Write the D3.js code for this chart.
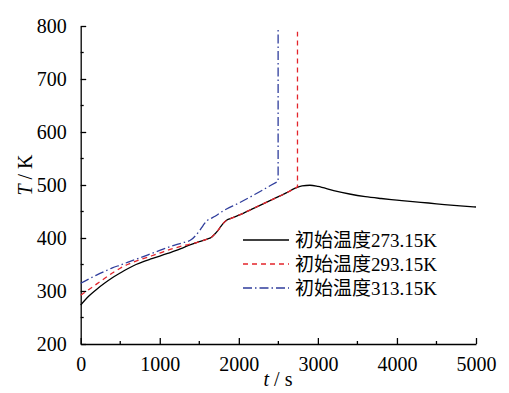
<!DOCTYPE html>
<html>
<head>
<meta charset="utf-8">
<script src="https://cdn.jsdelivr.net/npm/d3@7"></script>
<style>
  body { margin: 0; background: #fff; }
  svg { display: block; }
</style>
</head>
<body>
<div id="chart"></div>
<script>
// series: time (s) and temperature (K)
const t273 = [0, 100, 200, 300, 400, 500, 600, 700, 800, 900, 1000, 1100, 1200, 1300, 1400, 1500, 1600, 1650, 1700, 1750, 1800, 1850, 1900, 2000, 2200, 2400, 2600, 2700, 2800, 2900, 3000, 3200, 3400, 3600, 3800, 4000, 4200, 4400, 4600, 4800, 5000];
const T273 = [273.5, 290, 303, 314.5, 325, 334, 342.5, 350, 356, 361, 366, 371, 376, 382, 388, 393, 398, 401, 408, 417, 427, 434, 437, 443, 457, 471, 485, 493, 498.5, 499.5, 497.5, 489.5, 483, 478, 474.5, 471.5, 468.5, 466, 463, 460.5, 458.5];

const t293 = [0, 100, 200, 300, 400, 500, 600, 700, 800, 900, 1000, 1100, 1200, 1300, 1400, 1500, 1600, 1650, 1700, 1750, 1800, 1850, 1900, 2000, 2200, 2400, 2600, 2700, 2742];
const T293 = [292, 302.5, 313, 323.5, 334, 343, 350.5, 356.5, 361.5, 366.5, 371.5, 377, 381.5, 385.5, 389, 393, 398, 401, 408, 417, 427, 434, 437, 443, 457, 471, 485, 493, 496.5];
const top293 = 789;

const t313 = [0, 100, 200, 300, 400, 500, 600, 700, 800, 900, 1000, 1100, 1200, 1300, 1400, 1450, 1500, 1550, 1600, 1650, 1700, 1800, 2000, 2200, 2400, 2497];
const T313 = [314.5, 322.5, 330, 337, 343.5, 349, 354.5, 360, 365.5, 371, 376.5, 382, 387, 391.5, 397, 404, 413, 424, 433, 437, 441, 451, 466, 482, 499, 507];
const top313 = 798;

const xTicks = [0, 1000, 2000, 3000, 4000, 5000];
const yTicks = [200, 300, 400, 500, 600, 700, 800];
const legendLabels = ["初始温度273.15K", "初始温度293.15K", "初始温度313.15K"];

const FONT = "'Liberation Serif', 'Times New Roman', 'Noto Sans CJK SC', serif";
const W = 509, H = 393;
const svg = d3.select("#chart").append("svg").attr("width", W).attr("height", H)
    .attr("font-family", FONT);
svg.append("rect").attr("width", W).attr("height", H).attr("fill", "#fff");

const x = d3.scaleLinear().domain([0, 5000]).range([80.7, 476]);
const y = d3.scaleLinear().domain([200, 800]).range([344, 26]);

// axes (ticks point inward)
const xAxis = svg.append("g").attr("transform", `translate(0,${y(200)})`)
    .call(d3.axisBottom(x).tickValues(xTicks).tickSizeInner(-6).tickSizeOuter(0).tickPadding(13).tickFormat(d3.format("d")));
xAxis.append("g").selectAll("line").data(d3.range(500, 5000, 1000)).enter().append("line")
    .attr("x1", d => x(d)).attr("x2", d => x(d)).attr("y1", 0).attr("y2", -3).attr("stroke", "#000").attr("stroke-width", 1.3);

const yAxis = svg.append("g").attr("transform", `translate(${x(0)},0)`)
    .call(d3.axisLeft(y).tickValues(yTicks).tickSizeInner(-5.5).tickSizeOuter(0).tickPadding(14));
yAxis.append("g").selectAll("line").data(d3.range(250, 800, 100)).enter().append("line")
    .attr("x1", 0).attr("x2", 3).attr("y1", d => y(d)).attr("y2", d => y(d)).attr("stroke", "#000").attr("stroke-width", 1.3);

svg.selectAll(".domain, .tick line").attr("stroke", "#000").attr("stroke-width", 1.3);
xAxis.attr("font-family", FONT);
yAxis.attr("font-family", FONT);
svg.selectAll(".tick text").style("font-family", FONT).style("font-size", "20px").attr("fill", "#000");

// axis titles
svg.append("text").attr("transform", `translate(32,175) rotate(-90)`).attr("text-anchor", "middle")
    .style("font-family", FONT).style("font-size", "20px").html('<tspan font-style="italic">T</tspan> / K');
svg.append("text").attr("x", 278).attr("y", 386).attr("text-anchor", "middle")
    .style("font-family", FONT).style("font-size", "20px").html('<tspan font-style="italic">t</tspan> / s');

// curves
const line = d3.line().x(d => x(d[0])).y(d => y(d[1])).curve(d3.curveMonotoneX);
const series = [
  { t: t273, T: T273, top: null, color: "#000", dash: null },
  { t: t293, T: T293, top: top293, color: "#e3242b", dash: "5,4" },
  { t: t313, T: T313, top: top313, color: "#2f3d9c", dash: "9,3,1.5,3" }
];
const plot = svg.append("g");
series.forEach(s => {
  const pts = s.t.map((v, i) => [v, s.T[i]]);
  let d = line(pts);
  if (s.top !== null) d += `L${x(s.t[s.t.length - 1])},${y(s.top)}`;
  plot.append("path").attr("d", d).attr("fill", "none").attr("stroke", s.color)
      .attr("stroke-width", 1.3).attr("stroke-dasharray", s.dash);
});

// legend
const leg = svg.append("g");
series.forEach((s, i) => {
  const yy = 240 + i * 24;
  leg.append("line").attr("x1", 243).attr("x2", 289).attr("y1", yy).attr("y2", yy)
      .attr("stroke", s.color).attr("stroke-width", 1.3).attr("stroke-dasharray", s.dash);
  leg.append("text").attr("x", 295).attr("y", yy).attr("dominant-baseline", "central")
      .style("font-family", FONT).style("font-size", "19px").text(legendLabels[i]);
});
</script>
</body>
</html>
